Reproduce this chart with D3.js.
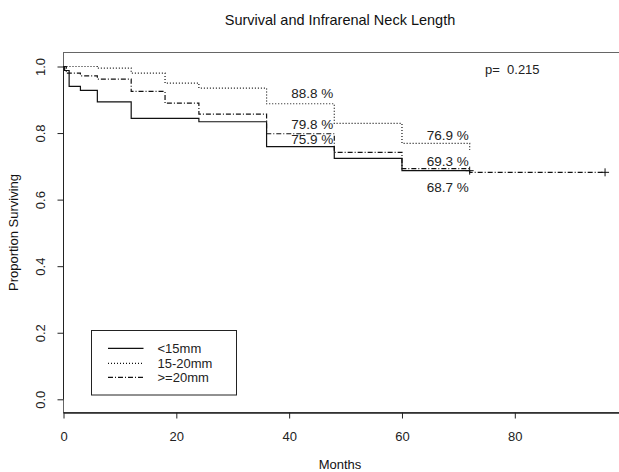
<!DOCTYPE html>
<html>
<head>
<meta charset="utf-8">
<script src="https://cdn.jsdelivr.net/npm/d3@7"></script>
<style>
  html, body { margin: 0; padding: 0; background: #fff; }
  svg { display: block; font-family: "Liberation Sans", Arial, sans-serif; }
</style>
</head>
<body>
<svg id="chart" width="619" height="472"></svg>
<script>
// Kaplan-Meier step estimates by infrarenal neck length group (months, survival)
const groups = ["<15mm", "15-20mm", ">=20mm"];
const timesShort = [0, 0.2, 1, 3, 6, 12, 24, 36, 48, 60, 72];
const survShort  = [1.0, 0.988, 0.940, 0.928, 0.894, 0.844, 0.834, 0.759, 0.724, 0.687, 0.687];
const timesMid   = [0, 6, 12, 18, 24, 36, 48, 60, 72];
const survMid    = [1.0, 0.995, 0.980, 0.950, 0.935, 0.888, 0.829, 0.769, 0.749];
const timesLong  = [0, 0.5, 3, 6, 12, 18, 24, 36, 48, 60, 72, 96];
const survLong   = [1.0, 0.980, 0.972, 0.962, 0.925, 0.890, 0.857, 0.798, 0.742, 0.693, 0.682, 0.682];
// censored last observations (+ marks)
const censorTimes = [72, 96];
const censorSurv  = [0.687, 0.682];

// annotated survival at 4 and 6 years
const labelTimes  = [48, 48, 48, 72, 72, 72];
const labelValues = [0.888, 0.798, 0.759, 0.769, 0.693, 0.687];

const xTicks = [0, 20, 40, 60, 80];
const yTicks = [0.0, 0.2, 0.4, 0.6, 0.8, 1.0];
const pValue = 0.215;

// ---- layout ----
const svg = d3.select("#chart");
const frame = { left: 63.5, right: 622, top: 52.5, bottom: 412.5 };
const x = d3.scaleLinear().domain([0, 80]).range([63.5, 514.8]);
const y = d3.scaleLinear().domain([0, 1]).range([399.3, 66.5]);
const fontSize = 13;

// plot frame
svg.append("rect")
  .attr("x", frame.left).attr("y", frame.top)
  .attr("width", frame.right - frame.left).attr("height", frame.bottom - frame.top)
  .attr("fill", "none").attr("stroke", "#666").attr("stroke-width", 1);

// axes
const xAxis = d3.axisBottom(x).tickValues(xTicks).tickSize(6).tickPadding(13)
  .tickFormat(d3.format("d"));
const gx = svg.append("g").attr("transform", `translate(0,${frame.bottom})`).call(xAxis);
gx.select(".domain").attr("d", `M${frame.left},0.5H${frame.right}`).attr("stroke", "#222").attr("stroke-width", 1.5);

const yAxis = d3.axisLeft(y).tickValues(yTicks).tickSize(6).tickFormat(d3.format(".1f"));
const gy = svg.append("g").attr("transform", `translate(${frame.left},0)`).call(yAxis);
gy.select(".domain").attr("d", `M0,${y(0)}V${y(1)}`).attr("stroke", "#222");
gy.selectAll(".tick text")
  .attr("x", null)
  .attr("text-anchor", "middle")
  .attr("transform", "translate(-23,0) rotate(-90)")
  .attr("dy", "0.35em");

[gx, gy].forEach(g => {
  g.selectAll(".tick line").attr("stroke", "#222");
  g.selectAll(".tick text").attr("fill", "#222").style("font-size", fontSize + "px")
    .style("font-family", "'Liberation Sans', Arial, sans-serif");
});

// titles
svg.append("text").attr("x", 340).attr("y", 25).attr("text-anchor", "middle")
  .attr("fill", "#111").style("font-size", "14.5px").text("Survival and Infrarenal Neck Length");
svg.append("text").attr("x", 340).attr("y", 469).attr("text-anchor", "middle")
  .attr("fill", "#111").style("font-size", fontSize + "px").text("Months");
svg.append("text").attr("transform", "translate(18,232.5) rotate(-90)").attr("text-anchor", "middle")
  .attr("fill", "#111").style("font-size", fontSize + "px").text("Proportion Surviving");

// survival curves
const styles = [
  { dash: null, width: 1.2 },
  { dash: "1,2", width: 1.2 },
  { dash: "5,2,1,2", width: 1.2 }
];
const series = [
  d3.zip(timesShort, survShort),
  d3.zip(timesMid, survMid),
  d3.zip(timesLong, survLong)
];
const step = d3.line().x(d => x(d[0])).y(d => y(d[1])).curve(d3.curveStepAfter);
series.forEach((pts, i) => {
  svg.append("path").datum(pts).attr("d", step)
    .attr("fill", "none").attr("stroke", "#111")
    .attr("stroke-width", styles[i].width)
    .attr("stroke-dasharray", styles[i].dash);
});

// censor marks
d3.zip(censorTimes, censorSurv).forEach(([t, s]) => {
  const cx = x(t), cy = y(s);
  svg.append("path").attr("d", `M${cx - 4},${cy}H${cx + 4}M${cx},${cy - 4}V${cy + 4}`)
    .attr("stroke", "#111").attr("stroke-width", 1);
});

// percentage annotations (pixel offset from the step level)
const labelOffsets = [-10, -9, -7, -8, -7, 17];
labelValues.forEach((v, i) => {
  svg.append("text")
    .attr("x", x(labelTimes[i]) - 1).attr("y", y(v) + labelOffsets[i])
    .attr("text-anchor", "end").attr("dy", "0.35em")
    .attr("fill", "#222").style("font-size", "13.5px")
    .text(d3.format(".1f")(v * 100) + " %");
});

// log-rank p value
svg.append("text").attr("x", 485).attr("y", 69).attr("dy", "0.35em")
  .attr("fill", "#222").style("font-size", fontSize + "px")
  .style("white-space", "pre").attr("xml:space", "preserve")
  .text("p=  " + pValue);

// legend
const lg = svg.append("g");
lg.append("rect").attr("x", 91.5).attr("y", 330.5).attr("width", 145).attr("height", 64.5)
  .attr("fill", "#fff").attr("stroke", "#222").attr("stroke-width", 1);
const rowY = [348.3, 363.3, 377.3];
groups.forEach((g, i) => {
  lg.append("line").attr("x1", 108).attr("x2", 143.5).attr("y1", rowY[i]).attr("y2", rowY[i])
    .attr("stroke", "#111").attr("stroke-width", styles[i].width)
    .attr("stroke-dasharray", styles[i].dash);
  lg.append("text").attr("x", 157.5).attr("y", rowY[i]).attr("dy", "0.35em")
    .attr("fill", "#222").style("font-size", fontSize + "px").text(g);
});
</script>
</body>
</html>
